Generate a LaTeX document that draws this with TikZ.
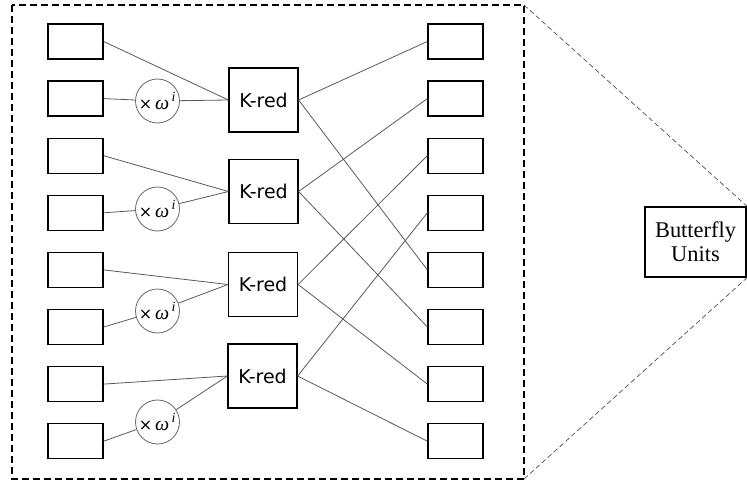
\documentclass[tikz,border=0pt]{standalone}
\usepackage{fontspec}
\setmainfont{Liberation Serif}
\newfontfamily\dejavu{DejaVu Sans}
\newcommand{\omi}{{\fontsize{16}{20}\selectfont ×}\,{\rmfamily\itshape\fontsize{20}{20}\selectfont ω\textsuperscript{\,i}}}
\begin{document}
\begin{tikzpicture}[x=1pt,y=-1pt,
  cell/.style={draw=black,line width=1.3pt,minimum width=55pt,minimum height=35pt,inner sep=0pt},
  kred/.style={draw=black,line width=1.2pt,minimum width=69pt,minimum height=64pt,inner sep=0pt,font=\dejavu\fontsize{19}{22}\selectfont},
  mul/.style={circle,draw=black!60,line width=0.8pt,minimum size=44pt,inner sep=0pt,font=\dejavu\fontsize{17}{20}\selectfont},
  wire/.style={draw=black!65,line width=0.8pt},
  bfly/.style={draw=black,line width=1.7pt,minimum width=101pt,minimum height=70pt,inner sep=0pt,align=center,font=\fontsize{22.4}{26}\selectfont}
]
\useasboundingbox (0,0) rectangle (747,484);
% outer dashed frame
\draw[line width=1.4pt,dash pattern=on 7pt off 4pt] (12,5) rectangle (524,479);
\coordinate (fTR) at (524,5);
\coordinate (fBR) at (524,479);
% left and right cells
\foreach \k in {1,...,8}{
  \node[cell] (L\k) at (75.5,{41.5+57.1*(\k-1)}) {};
  \node[cell] (R\k) at (455.5,{41.5+57.1*(\k-1)}) {};
}
% K-red
\node[kred] (K1) at (263.5,100) {K-red};
\node[kred] (K2) at (263.5,191.5) {K-red};
\node[kred] (K3) at (263,284.5) {K-red};
\node[kred] (K4) at (262.5,376) {K-red};
% multipliers
\node[mul] (M1) at (157.5,101) {\omi};
\node[mul] (M2) at (157.5,209) {\omi};
\node[mul] (M3) at (157.5,311) {\omi};
\node[mul] (M4) at (157.5,422) {\omi};
% wires left
\draw[wire] (L1.east) -- (K1.west);
\draw[wire] (L2.east) -- (M1) -- (K1.west);
\draw[wire] (L3.east) -- (K2.west);
\draw[wire] (L4.east) -- (M2) -- (K2.west);
\draw[wire] (L5.east) -- (K3.west);
\draw[wire] (L6.east) -- (M3) -- (K3.west);
\draw[wire] (L7.east) -- (K4.west);
\draw[wire] (L8.east) -- (M4) -- (K4.west);
% wires right
\draw[wire] (K1.east) -- (R1.west);
\draw[wire] (K1.east) -- (R5.west);
\draw[wire] (K2.east) -- (R2.west);
\draw[wire] (K2.east) -- (R6.west);
\draw[wire] (K3.east) -- (R3.west);
\draw[wire] (K3.east) -- (R7.west);
\draw[wire] (K4.east) -- (R4.west);
\draw[wire] (K4.east) -- (R8.west);
% butterfly
\node[bfly] (B) at (695.5,242) {Butterfly\\[-2pt]Units};
\draw[draw=black!70,line width=0.7pt,dash pattern=on 5pt off 3pt] (fTR) -- (B.north east);
\draw[draw=black!70,line width=0.7pt,dash pattern=on 5pt off 3pt] (fBR) -- (B.south east);
\end{tikzpicture}
\end{document}
